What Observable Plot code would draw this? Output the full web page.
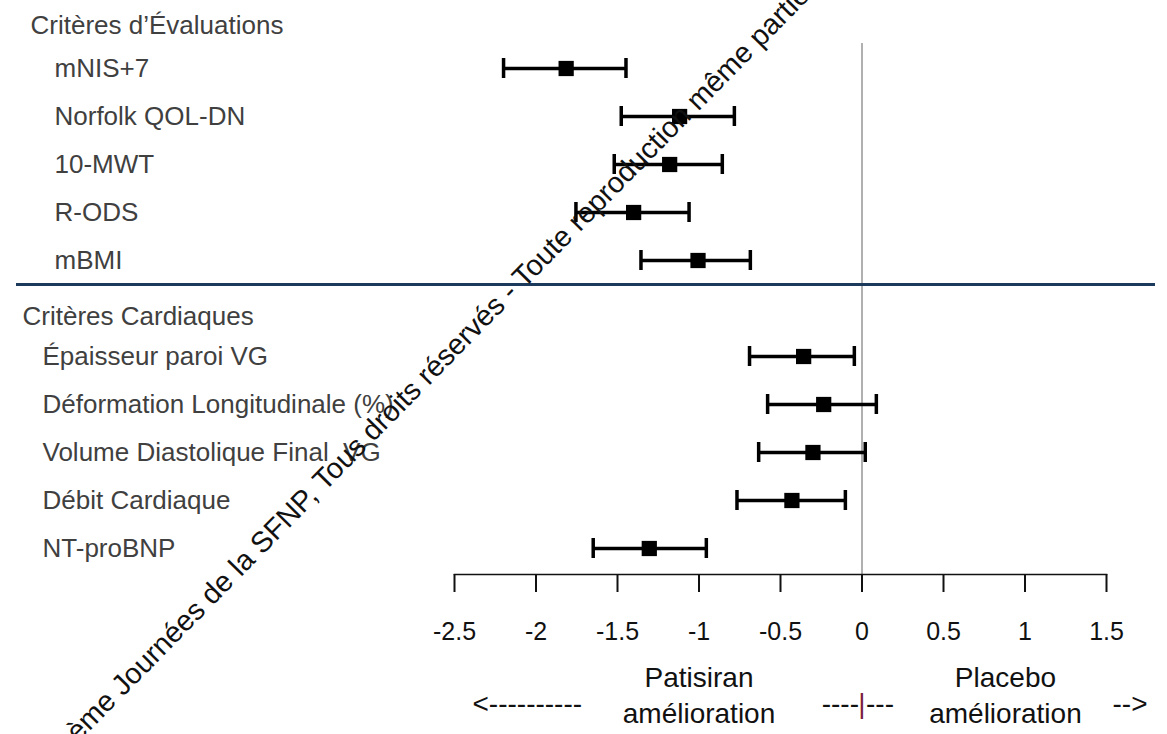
<!DOCTYPE html>
<html><head><meta charset="utf-8">
<script src="https://cdn.jsdelivr.net/npm/d3@7"></script>
<script src="https://cdn.jsdelivr.net/npm/@observablehq/plot@0.6"></script>
<style>
html,body{margin:0;padding:0;background:#fff;}
#chart{position:relative;width:1167px;height:734px;overflow:hidden;}
</style></head><body><div id="chart"></div>
<script>
// ---- data ----
const header1 = "Critères d’Évaluations";
const header2 = "Critères Cardiaques";
const criteria1 = ["mNIS+7","Norfolk QOL-DN","10-MWT","R-ODS","mBMI"];
const estimate1 = [-1.815,-1.119,-1.180,-1.401,-1.006];
const lower1    = [-2.199,-1.477,-1.520,-1.755,-1.356];
const upper1    = [-1.448,-0.783,-0.857,-1.061,-0.685];
const criteria2 = ["Épaisseur paroi VG","Déformation Longitudinale (%)","Volume Diastolique Final  VG","Débit Cardiaque","NT-proBNP"];
const estimate2 = [-0.358,-0.235,-0.301,-0.430,-1.305];
const lower2    = [-0.690,-0.579,-0.634,-0.767,-1.649];
const upper2    = [-0.047,0.088,0.020,-0.102,-0.955];
const xTicks = [-2.5,-2,-1.5,-1,-0.5,0,0.5,1,1.5];
const favourTop = ["Patisiran","Placebo"];
const favourBottom = ["amélioration","amélioration"];
const favourX = [-1, 0.88];
const arrowLeft = "<----------";
const arrowMidLeft = "----";
const arrowMidBar = "|";
const arrowMidRight = "---";
const arrowRight = "-->";
const watermark = "ème Journées de la SFNP, Tous droits réservés - Toute reproduction même partie";

// ---- build ----
const GAP = "\u00a0";
const rows1 = criteria1.map((name,i)=>({name, est:estimate1[i], lo:lower1[i], hi:upper1[i]}));
const rows2 = criteria2.map((name,i)=>({name, est:estimate2[i], lo:lower2[i], hi:upper2[i]}));
const rows = rows1.concat(rows2);
const favour = favourTop.map((t,i)=>({top:t, bottom:favourBottom[i], x:favourX[i]}));
const font = "'Liberation Sans', Arial, Helvetica, sans-serif";
const ML = 454;

const svg = Plot.plot({
  width:1167, height:734,
  marginLeft:ML, marginRight:61, marginTop:43, marginBottom:160,
  style:{fontFamily:font, background:"transparent", overflow:"visible"},
  x:{domain:[-2.5,1.5], axis:null},
  y:{type:"band", domain:[...criteria1, GAP, ...criteria2], range:[42.9,573.1], padding:0, axis:null},
  marks:[
    Plot.ruleX([0], {stroke:"#b0b0b0", strokeWidth:2, insetBottom:-18}),
    Plot.ruleY([GAP], {y:d=>d, dy:-24, stroke:"#1b3a5c", strokeWidth:3, insetLeft:-(ML-16), insetRight:-49}),
    Plot.frame({anchor:"bottom", stroke:"#111", strokeWidth:1.6}),
    Plot.axisX(xTicks, {tickSize:18, tickPadding:30, fontSize:25, stroke:"#111", strokeWidth:2, fill:"#111",
      tickFormat:d=>String(d), label:null}),
    // error bars
    Plot.ruleY(rows, {y:"name", x1:"lo", x2:"hi", stroke:"#000", strokeWidth:3.5}),
    Plot.tickX(rows, {y:"name", x:"lo", stroke:"#000", strokeWidth:3.5, insetTop:14, insetBottom:14}),
    Plot.tickX(rows, {y:"name", x:"hi", stroke:"#000", strokeWidth:3.5, insetTop:14, insetBottom:14}),
    Plot.dot(rows, {y:"name", x:"est", symbol:"square", r:8.6, fill:"#000", stroke:null}),
    // row labels
    Plot.text(rows1, {y:"name", text:"name", frameAnchor:"left", textAnchor:"start", dx:54-ML, fontSize:26, fill:"#404040"}),
    Plot.text(rows2, {y:"name", text:"name", frameAnchor:"left", textAnchor:"start", dx:42-ML, fontSize:26, fill:"#404040"}),
    Plot.text([header1], {y:()=>criteria1[0], text:d=>d, frameAnchor:"left", textAnchor:"start", dx:30-ML, dy:-42.5, fontSize:26, fill:"#404040"}),
    Plot.text([header2], {y:()=>criteria2[0], text:d=>d, frameAnchor:"left", textAnchor:"start", dx:22-ML, dy:-39.5, fontSize:26, fill:"#404040"}),
    // favour labels
    Plot.text(favour, {x:"x", text:"top", frameAnchor:"bottom", dy:112, fontSize:28, fill:"#111"}),
    Plot.text(favour, {x:"x", text:"bottom", frameAnchor:"bottom", dy:148, fontSize:28, fill:"#111"}),
    Plot.text([arrowLeft], {text:d=>d, frameAnchor:"bottom-left", textAnchor:"start", dx:18, dy:138, fontSize:28, fill:"#111"}),
    Plot.text([arrowMidLeft], {x:()=>0, text:d=>d, frameAnchor:"bottom", textAnchor:"end", dx:-3, dy:138, fontSize:28, fill:"#111"}),
    Plot.text([arrowMidBar], {x:()=>0, text:d=>d, frameAnchor:"bottom", dy:138, fontSize:28, fill:"#7a1f3d"}),
    Plot.text([arrowMidRight], {x:()=>0, text:d=>d, frameAnchor:"bottom", textAnchor:"start", dx:4, dy:138, fontSize:28, fill:"#111"}),
    Plot.text([arrowRight], {text:d=>d, frameAnchor:"bottom-right", textAnchor:"start", dx:6, dy:138, fontSize:28, fill:"#111"})
  ]
});

d3.select(svg).append("text")
  .attr("transform","translate(78,743) rotate(-45.5)")
  .attr("text-anchor","start")
  .attr("font-family", font)
  .attr("font-size", 29)
  .attr("fill", "#111")
  .text(watermark);

document.getElementById("chart").appendChild(svg);
</script>
</body></html>
